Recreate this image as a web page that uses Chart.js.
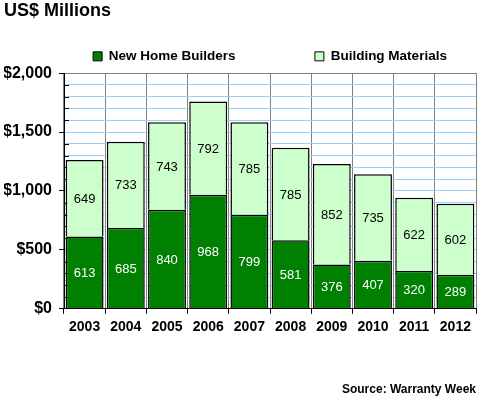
<!DOCTYPE html>
<html>
<head>
<meta charset="utf-8">
<script src="https://cdn.jsdelivr.net/npm/chart.js@4/dist/chart.umd.min.js"></script>
<style>
  body { margin: 0; background: #fff; }
  #wrap { width: 480px; height: 399px; }
</style>
</head>
<body>
<div id="wrap"><canvas id="warrantyChart"></canvas></div>
<script>
const years = ['2003', '2004', '2005', '2006', '2007', '2008', '2009', '2010', '2011', '2012'];
const homeBuilders = [613, 685, 840, 968, 799, 581, 376, 407, 320, 289];
const buildingMaterials = [649, 733, 743, 792, 785, 785, 852, 735, 622, 602];
const seriesNames = ['New Home Builders', 'Building Materials'];

const FONT = "'Liberation Sans', Arial, sans-serif";
Chart.defaults.font.family = FONT;
Chart.defaults.color = '#000';

// value labels in the middle of each segment
const segmentLabels = {
    id: 'segmentLabels',
    afterDatasetsDraw(chart) {
        const ctx = chart.ctx;
        ctx.save();
        ctx.font = '13px ' + FONT;
        ctx.textAlign = 'center';
        ctx.textBaseline = 'middle';
        chart.data.datasets.forEach((ds, di) => {
            ctx.fillStyle = di === 0 ? '#fff' : '#000';
            chart.getDatasetMeta(di).data.forEach((bar, i) => {
                ctx.fillText(ds.data[i], bar.x, (bar.y + bar.base) / 2 + 1);
            });
        });
        ctx.restore();
    }
};

// small inside ticks for the $100 steps
const minorTicks = {
    id: 'minorTicks',
    beforeDatasetsDraw(chart) {
        const y = chart.scales.y;
        const left = chart.chartArea.left;
        const ctx = chart.ctx;
        ctx.save();
        ctx.strokeStyle = '#000';
        ctx.lineWidth = 1;
        y.ticks.forEach(t => {
            if (t.value % 500 !== 0) {
                const py = Math.round(y.getPixelForValue(t.value)) + 0.5;
                ctx.beginPath();
                ctx.moveTo(left, py);
                ctx.lineTo(left + 5, py);
                ctx.stroke();
            }
        });
        ctx.restore();
    }
};

const spacer = () => ({
    text: '', fillStyle: 'rgba(0,0,0,0)', strokeStyle: 'rgba(0,0,0,0)', lineWidth: 0, hidden: false
});

new Chart(document.getElementById('warrantyChart'), {
    type: 'bar',
    data: {
        labels: years,
        datasets: [{
            label: seriesNames[0],
            data: homeBuilders,
            backgroundColor: '#008000',
            borderColor: '#000',
            borderWidth: 1.5
        }, {
            label: seriesNames[1],
            data: buildingMaterials,
            backgroundColor: '#CCFFCC',
            borderColor: '#000',
            borderWidth: 1.5
        }]
    },
    options: {
        responsive: true,
        maintainAspectRatio: false,
        animation: false,
        barPercentage: 0.92,
        categoryPercentage: 1,
        layout: { padding: { left: 4, right: 4, top: 0, bottom: 2 } },
        plugins: {
            title: {
                display: true,
                text: 'US$ Millions',
                align: 'start',
                font: { size: 18, weight: 'bold' },
                padding: { top: 0, bottom: 20 }
            },
            subtitle: {
                display: true,
                text: 'Source: Warranty Week',
                position: 'bottom',
                align: 'end',
                font: { size: 12, weight: 'bold' },
                padding: { top: 42, bottom: 0 }
            },
            legend: {
                position: 'top',
                fullSize: false,
                labels: {
                    boxWidth: 9,
                    boxHeight: 9,
                    padding: 8,
                    font: { size: 13.5, weight: 'bold' },
                    generateLabels(chart) {
                        const items = Chart.defaults.plugins.legend.labels.generateLabels(chart);
                        items.forEach(it => { it.lineWidth = 1; it.strokeStyle = '#000'; });
                        return [items[0], spacer(), spacer(), spacer(), items[1]];
                    }
                }
            },
            tooltip: { enabled: false }
        },
        scales: {
            x: {
                stacked: true,
                border: { color: '#000', width: 1 },
                grid: {
                    offset: true,
                    color: '#808080',
                    lineWidth: 1,
                    tickColor: '#000',
                    tickLength: 5
                },
                ticks: { font: { size: 14, weight: 'bold' }, padding: 5 }
            },
            y: {
                stacked: true,
                min: 0,
                max: 2000,
                border: { color: '#000', width: 1 },
                afterFit(scale) { scale.width = 60; },
                grid: {
                    color: ctx => ctx.tick && ctx.tick.value === 2000 ? '#808080' : '#99CCFF',
                    lineWidth: 1,
                    tickColor: ctx => ctx.tick && ctx.tick.value % 500 === 0 ? '#000' : 'rgba(0,0,0,0)',
                    tickLength: 5
                },
                ticks: {
                    stepSize: 100,
                    autoSkip: false,
                    padding: 7,
                    font: { size: 16, weight: 'bold' },
                    callback: v => v % 500 === 0 ? '$' + v.toLocaleString('en-US') : ''
                }
            }
        }
    },
    plugins: [segmentLabels, minorTicks]
});
</script>
</body>
</html>
